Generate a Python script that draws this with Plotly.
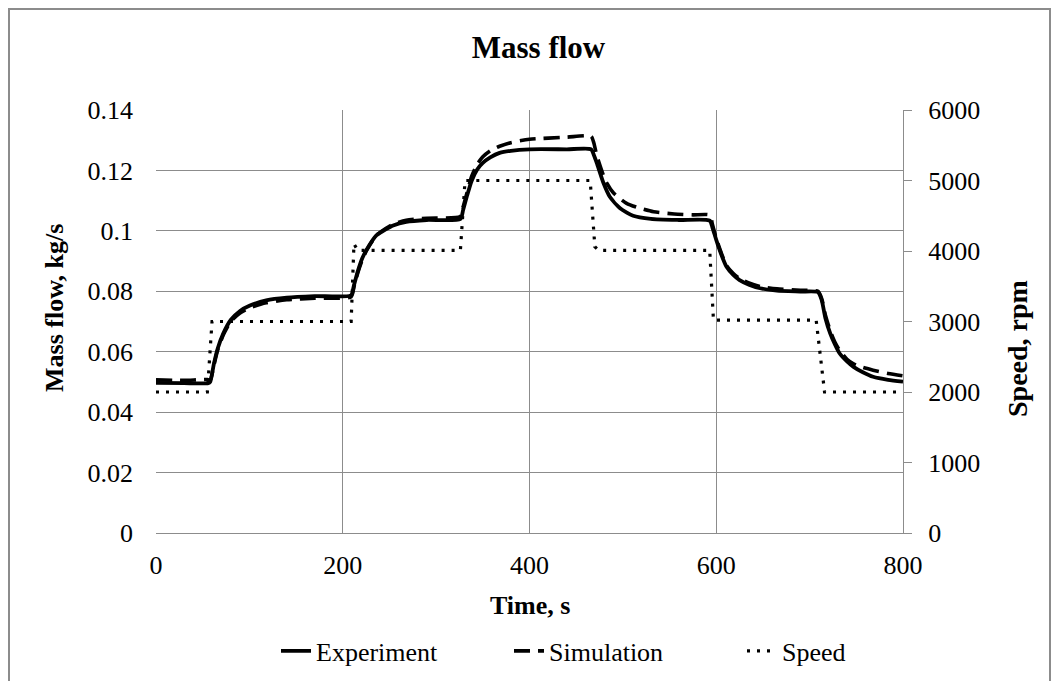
import plotly.graph_objects as go

# ---- data ----
time_exp = [0, 30, 56, 58, 62, 66, 72, 80, 90, 100, 118, 140, 170, 209, 212, 216, 221, 226, 236, 246, 254, 268, 290, 326,
            329, 333, 338, 344, 350, 358, 368, 380, 400, 440, 466, 469, 472, 479, 486, 497, 511, 530, 560, 593,
            596, 600, 605, 611, 618, 625, 635, 647, 665, 690, 709, 713, 717, 722, 727, 732, 740, 747, 757, 768, 784, 800]
mass_exp = [0.0497, 0.0496, 0.0496, 0.0500, 0.0560, 0.0610, 0.0660, 0.0705, 0.0735, 0.0752, 0.0770, 0.0779, 0.0784, 0.0787,
            0.0820, 0.0865, 0.0910, 0.0940, 0.0985, 0.1005, 0.1018, 0.1030, 0.1036, 0.1039,
            0.1070, 0.1115, 0.1165, 0.1203, 0.1225, 0.1243, 0.1258, 0.1265, 0.1270, 0.1270, 0.1270, 0.1250, 0.1225,
            0.1160, 0.1113, 0.1075, 0.1050, 0.1040, 0.1036, 0.1034,
            0.1010, 0.0970, 0.0925, 0.0881, 0.0855, 0.0837, 0.0822, 0.0810, 0.0802, 0.0799, 0.0797,
            0.0770, 0.0710, 0.0661, 0.0625, 0.0595, 0.0568, 0.0550, 0.0532, 0.0517, 0.0507, 0.0501]

time_sim = [0, 30, 55, 58, 62, 66, 72, 80, 90, 100, 118, 140, 170, 209, 212, 216, 221, 226, 236, 246, 254, 268, 290, 326,
            329, 333, 338, 344, 350, 358, 368, 380, 400, 440, 466, 469, 472, 479, 483, 490, 504, 518, 533, 555, 575, 593,
            596, 600, 605, 611, 618, 625, 635, 647, 665, 690, 709, 713, 717, 722, 727, 732, 740, 747, 757, 768, 784, 800]
mass_sim = [0.0507, 0.0505, 0.0508, 0.0505, 0.0555, 0.0605, 0.0655, 0.0700, 0.0728, 0.0745, 0.0762, 0.0772, 0.0777, 0.0782,
            0.0815, 0.0860, 0.0905, 0.0938, 0.0985, 0.1008, 0.1022, 0.1035, 0.1042, 0.1048,
            0.1080, 0.1125, 0.1180, 0.1220, 0.1245, 0.1265, 0.1280, 0.1292, 0.1303, 0.1310, 0.1313, 0.1290, 0.1250,
            0.1185, 0.1157, 0.1125, 0.1091, 0.1075, 0.1063, 0.1056, 0.1053, 0.1052,
            0.1020, 0.0975, 0.0930, 0.0885, 0.0860, 0.0842, 0.0828, 0.0816, 0.0808, 0.0803, 0.0800,
            0.0775, 0.0720, 0.0670, 0.0632, 0.0605, 0.0575, 0.0560, 0.0548, 0.0539, 0.0528, 0.0520]

time_speed = [0, 55, 60, 209, 212, 216, 326, 331, 465, 470, 474, 593, 597, 707, 716, 800]
speed_rpm = [2000, 2000, 3000, 3000, 4100, 4010, 4010, 5000, 5000, 4060, 4010, 4010, 3020, 3020, 2000, 2000]

y_ticks = [0, 0.02, 0.04, 0.06, 0.08, 0.1, 0.12, 0.14]
y_ticklabels = ["0", "0.02", "0.04", "0.06", "0.08", "0.1", "0.12", "0.14"]
y2_ticks = [0, 1000, 2000, 3000, 4000, 5000, 6000]
y2_ticklabels = ["0", "1000", "2000", "3000", "4000", "5000", "6000"]
x_ticks = [0, 200, 400, 600, 800]
x_ticklabels = ["0", "200", "400", "600", "800"]

FONT = "Liberation Serif"
GRID = "#8c8c8c"

fig = go.Figure()
fig.add_trace(go.Scatter(x=time_exp, y=mass_exp, name="Experiment", mode="lines",
                         line=dict(color="black", width=3.8, shape="spline", smoothing=0.6)))
fig.add_trace(go.Scatter(x=time_sim, y=mass_sim, name="Simulation", mode="lines",
                         line=dict(color="black", width=3.6, dash="16px,8px", shape="spline", smoothing=0.6)))
fig.add_trace(go.Scatter(x=time_speed, y=speed_rpm, name="Speed", mode="lines", yaxis="y2",
                         line=dict(color="black", width=3.2, dash="3px,7px")))

W, H = 1061, 681
L, R, T, B = 156, 903, 110, 533
pw, ph = R - L, B - T

def px(xp):
    return (xp - L) / pw

def py(yp):
    return (B - yp) / ph

fig.update_layout(
    width=W, height=H,
    margin=dict(l=L, r=W - R, t=T, b=H - B, autoexpand=False),
    paper_bgcolor="white", plot_bgcolor="white",
    font=dict(family=FONT, size=26, color="black"),
    title=dict(text="<b>Mass flow</b>", font=dict(family=FONT, size=31, color="black"),
               x=538.5 / W, xref="container", xanchor="center",
               y=1 - 47 / H, yref="container", yanchor="middle"),
    showlegend=True,
    legend=dict(orientation="h", x=px(276), xref="paper", xanchor="left",
                y=py(651), yref="paper", yanchor="middle", font=dict(family=FONT, size=26, color="black"),
                bgcolor="rgba(0,0,0,0)", entrywidth=188, entrywidthmode="pixels", tracegroupgap=0),
    xaxis=dict(range=[0, 800], tickvals=x_ticks, ticktext=x_ticklabels, automargin=False,
               showgrid=True, gridcolor=GRID, gridwidth=1.3, zeroline=False,
               showline=True, linecolor=GRID, linewidth=1.3, ticks="",
               ticklabelstandoff=9, tickfont=dict(family=FONT, size=26, color="black")),
    yaxis=dict(range=[0, 0.14], tickvals=y_ticks, ticktext=y_ticklabels, automargin=False,
               showgrid=True, gridcolor=GRID, gridwidth=1.3, zeroline=False,
               showline=False, ticks="", ticklabelstandoff=22,
               tickfont=dict(family=FONT, size=26, color="black")),
    yaxis2=dict(range=[0, 6000], tickvals=y2_ticks, ticktext=y2_ticklabels, overlaying="y", side="right",
                automargin=False,
                showgrid=False, zeroline=False, showline=True, linecolor=GRID, linewidth=1.3,
                ticks="outside", ticklen=8, tickcolor=GRID, tickwidth=1.3, ticklabelstandoff=11,
                tickfont=dict(family=FONT, size=26, color="black")),
    annotations=[
        dict(text="<b>Time, s</b>", xref="paper", yref="paper", x=0.5, y=py(605),
             xanchor="center", yanchor="middle", showarrow=False, font=dict(family=FONT, size=26, color="black")),
        dict(text="<b>Mass flow, kg/s</b>", xref="paper", yref="paper", x=px(54), y=py(308),
             xanchor="center", yanchor="middle", textangle=-90, showarrow=False,
             font=dict(family=FONT, size=26, color="black")),
        dict(text="<b>Speed, rpm</b>", xref="paper", yref="paper", x=px(1017), y=py(348),
             xanchor="center", yanchor="middle", textangle=-90, showarrow=False,
             font=dict(family=FONT, size=28, color="black")),
    ],
    shapes=[
        dict(type="rect", xref="paper", yref="paper", x0=px(9), x1=px(1050), y0=py(700), y1=py(9),
             line=dict(color="#8c8c8c", width=2), fillcolor="rgba(0,0,0,0)", layer="below"),
    ],
)

fig.write_html("out.html")
